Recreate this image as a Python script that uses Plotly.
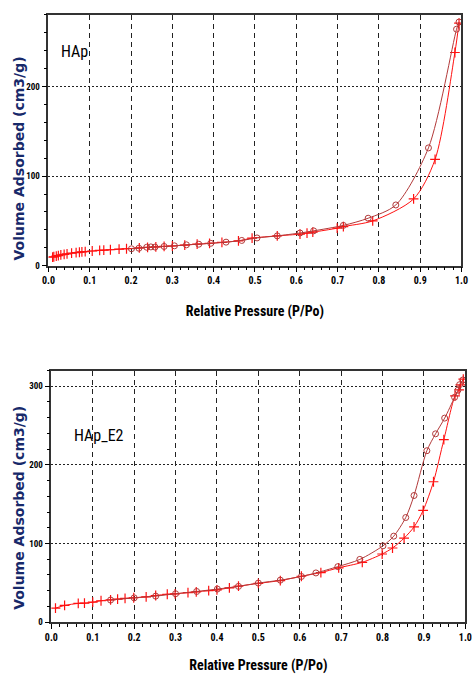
import plotly.graph_objects as go

# ---- data: HAp (top panel) ----
hap_ads_x = [0.010, 0.013, 0.019, 0.024, 0.030, 0.038, 0.045, 0.056, 0.067, 0.075, 0.081, 0.089,
             0.106, 0.124, 0.134, 0.150, 0.171, 0.189, 0.22, 0.24, 0.26, 0.28, 0.30, 0.33, 0.36,
             0.39, 0.42, 0.46, 0.493, 0.554, 0.609, 0.626, 0.640, 0.699, 0.714, 0.785, 0.884,
             0.936, 0.984, 0.994]
hap_ads_y = [9.5, 10.0, 10.6, 11.2, 12.0, 12.6, 13.3, 14.0, 14.6, 15.0, 15.4, 15.8,
             16.4, 17.0, 17.3, 17.8, 18.4, 18.9, 19.8, 20.4, 21.0, 21.5, 22.0, 23.0, 24.0,
             25.0, 26.0, 27.8, 30.8, 33.3, 35.2, 36.3, 37.4, 41.9, 43.7, 50.0, 74.5,
             118.6, 238.0, 270.8]
hap_des_x = [0.201, 0.219, 0.238, 0.248, 0.258, 0.280, 0.305, 0.334, 0.364, 0.393, 0.430,
             0.468, 0.505, 0.554, 0.609, 0.642, 0.714, 0.774, 0.841, 0.920, 0.988, 0.994]
hap_des_y = [18.9, 19.5, 20.6, 21.0, 20.8, 21.5, 22.2, 23.3, 24.0, 25.0, 26.3,
             28.2, 31.0, 33.3, 36.5, 38.9, 45.0, 53.0, 67.8, 131.5, 264.0, 272.0]

# ---- data: HAp_E2 (bottom panel) ----
e2_ads_x = [0.010, 0.032, 0.065, 0.080, 0.100, 0.120, 0.143, 0.160, 0.178, 0.199, 0.229, 0.252,
            0.280, 0.299, 0.330, 0.350, 0.380, 0.400, 0.430, 0.452, 0.500, 0.553, 0.604, 0.651,
            0.694, 0.751, 0.799, 0.824, 0.852, 0.876, 0.898, 0.923, 0.948, 0.975, 0.985, 0.988,
            0.995]
e2_ads_y = [17.7, 21.1, 23.7, 24.0, 25.3, 27.1, 28.3, 29.1, 30.0, 30.9, 32.1, 33.8,
            35.4, 35.9, 37.5, 38.5, 40.0, 41.0, 43.5, 45.6, 49.2, 52.8, 58.3, 63.0,
            69.0, 76.0, 86.6, 94.2, 106.8, 121.0, 142.0, 178.5, 232.0, 287.8, 295.4, 301.8,
            309.0]
e2_des_x = [0.143, 0.200, 0.252, 0.300, 0.351, 0.401, 0.452, 0.500, 0.553, 0.604, 0.639, 0.692,
            0.745, 0.801, 0.827, 0.856, 0.876, 0.907, 0.928, 0.950, 0.974, 0.982, 0.986, 0.994]
e2_des_y = [28.0, 30.8, 33.0, 36.0, 38.9, 42.0, 45.4, 49.6, 53.3, 58.0, 62.5, 70.5,
            79.7, 97.0, 109.3, 133.0, 161.0, 218.0, 239.5, 259.5, 286.0, 295.0, 302.0, 308.0]

x_ticks = [0.0, 0.1, 0.2, 0.3, 0.4, 0.5, 0.6, 0.7, 0.8, 0.9, 1.0]
x_ticklabels = ["0.0", "0.1", "0.2", "0.3", "0.4", "0.5", "0.6", "0.7", "0.8", "0.9", "1.0"]
top_yticks = [0, 100, 200]
bot_yticks = [0, 100, 200, 300]
panel_labels = ["HAp", "HAp_E2"]
x_title = "Relative Pressure (P/Po)"
y_title = "Volume Adsorbed (cm3/g)"

ADS = "#ff1010"
DES = "#b23a3a"
NARROW = "Roboto Condensed, DejaVu Sans Condensed, sans-serif"
WIDE = "DejaVu Sans, Verdana, sans-serif"

fig = go.Figure()

def add_pair(ax, ay, dx, dy, xa, ya):
    fig.add_trace(go.Scatter(x=ax, y=ay, xaxis=xa, yaxis=ya, mode="lines+markers",
                             line=dict(color=ADS, width=1, shape="spline", smoothing=0.8),
                             marker=dict(symbol="cross-thin", size=7, color=ADS,
                                         line=dict(color=ADS, width=1.2)),
                             showlegend=False))
    fig.add_trace(go.Scatter(x=dx, y=dy, xaxis=xa, yaxis=ya, mode="lines+markers",
                             line=dict(color=DES, width=1, shape="spline", smoothing=0.8),
                             marker=dict(symbol="circle-open", size=6, color=DES,
                                         line=dict(color=DES, width=1)),
                             showlegend=False))

add_pair(hap_ads_x, hap_ads_y, hap_des_x, hap_des_y, "x", "y")
add_pair(e2_ads_x, e2_ads_y, e2_des_x, e2_des_y, "x2", "y2")

def xaxis_cfg(domain, anchor, standoff):
    return dict(domain=domain, anchor=anchor, range=[0, 1], tickmode="array",
                tickvals=x_ticks, ticktext=x_ticklabels, ticks="outside", ticklen=5,
                tickwidth=1, tickcolor="black",
                minor=dict(dtick=0.02, tick0=0, ticks="outside", ticklen=3, tickcolor="black",
                           showgrid=False),
                showline=True, linecolor="#333", linewidth=1.5, mirror=True,
                showgrid=True, gridcolor="#222", gridwidth=1, griddash="5px,4px",
                zeroline=False,
                tickfont=dict(family=NARROW, size=10, color="black", weight="bold"),
                title=dict(text="<b>" + x_title + "</b>", standoff=standoff,
                           font=dict(family=NARROW, size=14, color="black")))

def yaxis_cfg(domain, anchor, rng, tv):
    return dict(domain=domain, anchor=anchor, range=rng, tickmode="array",
                tickvals=tv, ticktext=[str(v) for v in tv], ticks="outside", ticklen=5,
                tickwidth=1, tickcolor="black",
                minor=dict(dtick=20, tick0=0, ticks="outside", ticklen=3, tickcolor="black",
                           showgrid=False),
                showline=True, linecolor="#333", linewidth=1.5, mirror=True,
                showgrid=True, gridcolor="#222", gridwidth=1.2, griddash="2px,2px",
                zeroline=False, ticklabelstandoff=0,
                tickfont=dict(family=NARROW, size=9, color="black", weight="bold"))

def ytitle(xc, yc):
    return dict(text="<b>" + y_title + "</b>", xref="paper", yref="paper", x=xc, y=yc,
                xanchor="center", yanchor="middle", textangle=-90, showarrow=False,
                font=dict(family=WIDE, size=14, color="#17296a"))

fig.update_layout(
    width=475, height=678, margin=dict(l=0, r=0, t=0, b=0),
    paper_bgcolor="white", plot_bgcolor="white",
    xaxis=xaxis_cfg([0.0899, 0.9859], "y", 21),
    yaxis=yaxis_cfg([0.6052, 0.9779], "x", [0, 280], top_yticks),
    xaxis2=xaxis_cfg([0.0962, 0.9943], "y2", 18),
    yaxis2=yaxis_cfg([0.0757, 0.4494], "x2", [0, 320], bot_yticks),
    annotations=[
        ytitle(12 / 475, 1 - 160 / 678),
        ytitle(13 / 475, 1 - 512 / 678),
        dict(text=panel_labels[0], xref="paper", yref="paper", x=0.1475, y=0.9233,
             xanchor="center", yanchor="middle", showarrow=False,
             font=dict(family=NARROW, size=16, color="black")),
        dict(text=panel_labels[1], xref="paper", yref="paper", x=0.2000, y=0.3525,
             xanchor="center", yanchor="middle", showarrow=False,
             font=dict(family=NARROW, size=16, color="black")),
    ],
)

fig.write_html("out.html")
